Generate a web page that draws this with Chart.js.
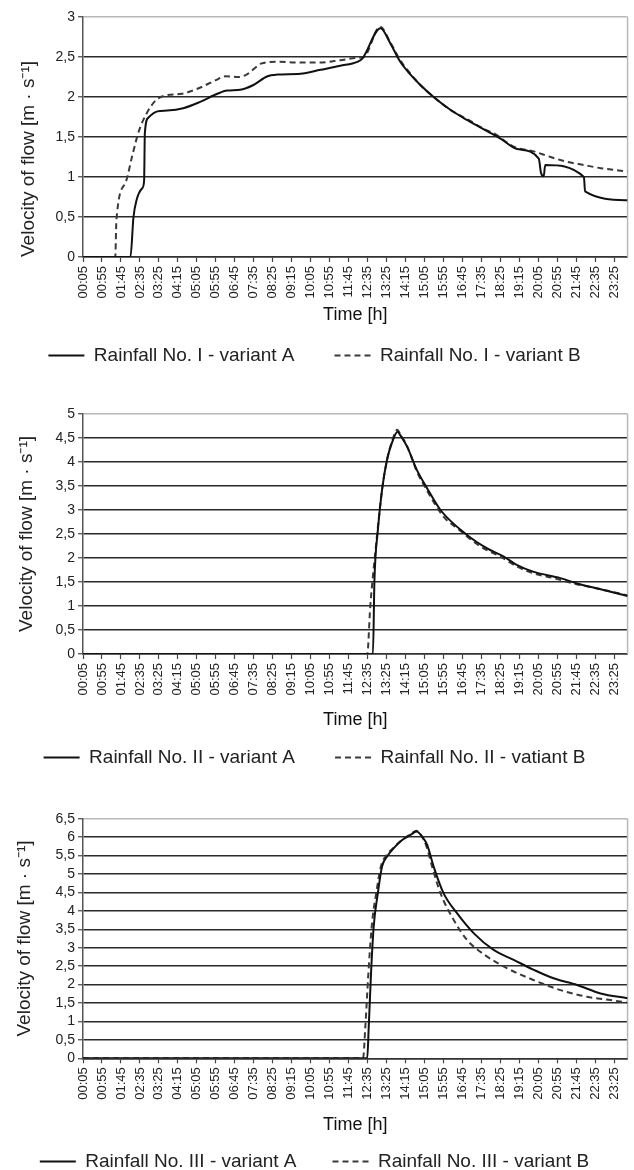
<!DOCTYPE html>
<html>
<head>
<meta charset="utf-8">
<script src="https://cdn.jsdelivr.net/npm/chart.js@4.4.1/dist/chart.umd.min.js"></script>
<style>
  html, body { margin: 0; padding: 0; background: #fff; overflow: hidden; }
  #wrap { position: relative; width: 634px; height: 1170px; overflow: hidden; background: #fff; }
  canvas { position: absolute; left: 0; }
</style>
</head>
<body>
<div id="wrap">
  <canvas id="c1" width="634" height="375" style="top:0px"></canvas>
  <canvas id="c2" width="634" height="397" style="top:380px"></canvas>
  <canvas id="c3" width="634" height="401" style="top:780px"></canvas>
</div>
<script>
// ---- tick labels (x axis, every 50 minutes) ----
const timeTickLabels = ['00:05','00:55','01:45','02:35','03:25','04:15','05:05','05:55','06:45','07:35',
  '08:25','09:15','10:05','10:55','11:45','12:35','13:25','14:15','15:05','15:55','16:45','17:35',
  '18:25','19:15','20:05','20:55','21:45','22:35','23:25'];

// ---- Rainfall No. I ----
const rain1ATimes = ['00:05','02:10','02:18','02:26','02:41','02:46','02:48','02:57','03:21','03:47',
  '04:29','05:14','05:59','06:25','06:59','07:34','08:11','08:37','09:38','10:31',
  '11:23','12:08','12:21','13:09','13:35','14:01','14:28','14:54','15:29','16:13',
  '16:58','17:51','18:25','19:09','20:06','20:12','20:19','20:23','22:05','22:08','24:00'];
const rain1AVals = [0,0,0.5,0.71,0.86,0.95,1.55,1.74,1.82,1.83,
  1.86,1.94,2.04,2.08,2.09,2.15,2.26,2.28,2.29,2.34,
  2.39,2.44,2.48,2.86,2.67,2.44,2.28,2.15,2.0,1.84,
  1.71,1.57,1.48,1.35,1.23,1.05,1.01,1.15,1.0,0.82,0.71];
const rain1BTimes = ['00:05','01:30','01:33','01:58','02:14','02:32','02:51','03:17','03:43','04:25',
  '05:10','05:55','06:21','06:55','07:16','07:56','08:33','09:33','10:26','11:23',
  '12:08','12:25','13:08','13:35','14:01','14:28','14:54','15:29','16:13','16:58',
  '17:51','18:07','19:00','19:53','20:37','21:21','22:05','22:49','24:00'];
const rain1BVals = [0,0,0.46,0.94,1.25,1.57,1.78,1.96,2.02,2.04,
  2.11,2.21,2.26,2.25,2.28,2.42,2.44,2.43,2.43,2.46,
  2.49,2.5,2.88,2.68,2.46,2.29,2.15,2.0,1.84,1.72,
  1.58,1.55,1.38,1.32,1.25,1.19,1.15,1.11,1.07];

// ---- Rainfall No. II ----
const rain2ATimes = ['00:05','12:49','12:53','13:02','13:13','13:26','13:40','13:54','14:01','14:19',
  '14:45','15:12','15:47','16:57','17:50','18:34','19:09','19:53','21:03','21:47','22:49','24:00'];
const rain2AVals = [0,0,1.54,2.58,3.42,4.04,4.42,4.63,4.56,4.32,
  3.83,3.45,3.0,2.48,2.2,2.03,1.85,1.71,1.58,1.47,1.35,1.21];
const rain2BTimes = ['00:05','12:34','12:42','12:55','13:04','13:13','13:26','13:40','13:53','14:01',
  '14:19','14:45','15:12','15:55','16:31','17:32','18:25','19:09','19:53','20:45','21:38','22:49','24:00'];
const rain2BVals = [0,0,0.99,2.1,2.79,3.42,4.04,4.45,4.67,4.58,
  4.33,3.8,3.4,2.86,2.62,2.24,2.03,1.82,1.68,1.58,1.47,1.35,1.22];

// ---- Rainfall No. III ----
const rain3ATimes = ['00:05','12:34','12:38','12:44','12:51','13:02','13:13','13:26','13:44','14:06',
  '14:28','14:44','14:59','15:12','15:29','15:55','16:31','17:15','18:07','19:00',
  '19:53','20:45','21:47','22:49','24:00'];
const rain3AVals = [0,0,0.86,2.31,3.57,4.48,5.2,5.47,5.7,5.92,
  6.06,6.15,6.01,5.79,5.2,4.48,3.93,3.39,2.94,2.67,
  2.4,2.17,1.99,1.76,1.63];
const rain3BTimes = ['00:05','12:23','12:29','12:37','12:46','12:58','13:10','13:24','13:44','14:06',
  '14:28','14:44','14:59','15:10','15:25','15:47','16:22','16:57','17:50','18:43',
  '19:53','21:03','22:13','23:15','24:00'];
const rain3BVals = [0,0,0.86,2.3,3.6,4.5,5.2,5.5,5.72,5.93,
  6.08,6.17,6.0,5.75,5.2,4.48,3.75,3.21,2.76,2.44,
  2.12,1.85,1.67,1.58,1.51];

const seriesLabels = [
  ['Rainfall No. I - variant A', 'Rainfall No. I - variant B'],
  ['Rainfall No. II - variant A', 'Rainfall No. II - vatiant B'],
  ['Rainfall No. III - variant A', 'Rainfall No. III - variant B']
];
const yMaxes = [3, 5, 6.5];

// ---------------------------------------------------------------
const toMin = s => { const [h, m] = s.split(':').map(Number); return h * 60 + m; };
const pts = (times, vals) => times.map((t, i) => ({ x: toMin(t), y: vals[i] }));

Chart.defaults.font.family = "'Liberation Sans', Arial, sans-serif";
Chart.defaults.color = '#222';

const framePlugin = {
  id: 'frame',
  beforeDatasetsDraw(chart) {
    const { ctx, chartArea: a } = chart;
    ctx.save();
    ctx.strokeStyle = '#b8b8b8';
    ctx.lineWidth = 1.5;
    ctx.beginPath();
    ctx.moveTo(a.right, a.top);
    ctx.lineTo(a.right, a.bottom);
    ctx.stroke();
    ctx.restore();
  }
};

function legendItems(chart) {
  const items = Chart.defaults.plugins.legend.labels.generateLabels(chart);
  items.forEach(it => {
    const ds = chart.data.datasets[it.datasetIndex];
    it.lineDash = ds.borderDash || [];
    it.lineWidth = ds.borderWidth;
    it.strokeStyle = ds.borderColor;
    it.fillStyle = ds.borderColor;
    it.pointStyle = 'line';
  });
  return items;
}

function makeChart(id, cfg) {
  const yMax = cfg.yMax;
  return new Chart(document.getElementById(id), {
    type: 'line',
    data: {
      datasets: [
        { label: cfg.labels[0], data: cfg.a, borderColor: '#111', borderWidth: 2, pointRadius: 0,
          fill: false, cubicInterpolationMode: 'monotone' },
        { label: cfg.labels[1], data: cfg.b, borderColor: '#3a3a3a', borderWidth: 2, borderDash: [6, 4],
          pointRadius: 0, fill: false, cubicInterpolationMode: 'monotone' }
      ]
    },
    options: {
      responsive: false,
      animation: false,
      devicePixelRatio: 1,
      layout: { padding: { top: cfg.padTop, right: 5, left: 0, bottom: 0 } },
      plugins: {
        tooltip: { enabled: false },
        legend: {
          position: 'bottom',
          labels: {
            usePointStyle: true, pointStyle: 'line', pointStyleWidth: 36,
            generateLabels: legendItems,
            font: { size: 19 }, color: '#222', padding: cfg.legendPad
          }
        }
      },
      scales: {
        x: {
          type: 'linear', min: 5, max: 1440,
          afterBuildTicks: s => { s.ticks = timeTickLabels.map(l => ({ value: toMin(l) })); },
          afterFit: s => { s.height = cfg.xHeight; },
          ticks: {
            autoSkip: false, maxRotation: 90, minRotation: 90,
            callback: (v, i) => timeTickLabels[i],
            font: { size: 13 }, color: '#222', padding: 4
          },
          grid: { drawOnChartArea: false, drawTicks: true, tickLength: 5, tickColor: '#444', tickWidth: 1.2 },
          border: { color: '#333', width: 1.5 },
          title: { display: true, text: 'Time [h]', font: { size: 18 }, color: '#111',
                   padding: { top: 0, bottom: cfg.xTitlePad } }
        },
        y: {
          min: 0, max: yMax,
          afterFit: s => { s.width = 83; },
          ticks: {
            stepSize: 0.5, autoSkip: false, maxTicksLimit: 30,
            callback: v => String(v).replace('.', ','),
            font: { size: 14 }, color: '#222', padding: 3
          },
          grid: {
            color: c => (c.tick && c.tick.value === yMax) ? '#b8b8b8' : '#2a2a2a',
            lineWidth: 1.5, tickLength: 5, tickColor: '#444', tickWidth: 1.2
          },
          border: { color: '#555', width: 1.5 },
          title: { display: true, text: 'Velocity of flow [m · s⁻¹]', font: { size: 19 }, color: '#222',
                   align: cfg.yTitleAlign, padding: { top: cfg.yTitlePad, bottom: 0 } }
        }
      }
    },
    plugins: [framePlugin]
  });
}

makeChart('c1', { yMax: yMaxes[0], labels: seriesLabels[0], a: pts(rain1ATimes, rain1AVals), b: pts(rain1BTimes, rain1BVals),
  padTop: 17, xHeight: 49, xTitlePad: -19.8, yTitlePad: 17, yTitleAlign: 'start', legendPad: 40 });
makeChart('c2', { yMax: yMaxes[1], labels: seriesLabels[1], a: pts(rain2ATimes, rain2AVals), b: pts(rain2BTimes, rain2BVals),
  padTop: 34, xHeight: 54, xTitlePad: -22.8, yTitlePad: 15, yTitleAlign: 'center', legendPad: 40 });
makeChart('c3', { yMax: yMaxes[2], labels: seriesLabels[2], a: pts(rain3ATimes, rain3AVals), b: pts(rain3BTimes, rain3BVals),
  padTop: 38.7, xHeight: 57.7, xTitlePad: -19.8, yTitlePad: 13, yTitleAlign: 'center', legendPad: 36 });
</script>
</body>
</html>
